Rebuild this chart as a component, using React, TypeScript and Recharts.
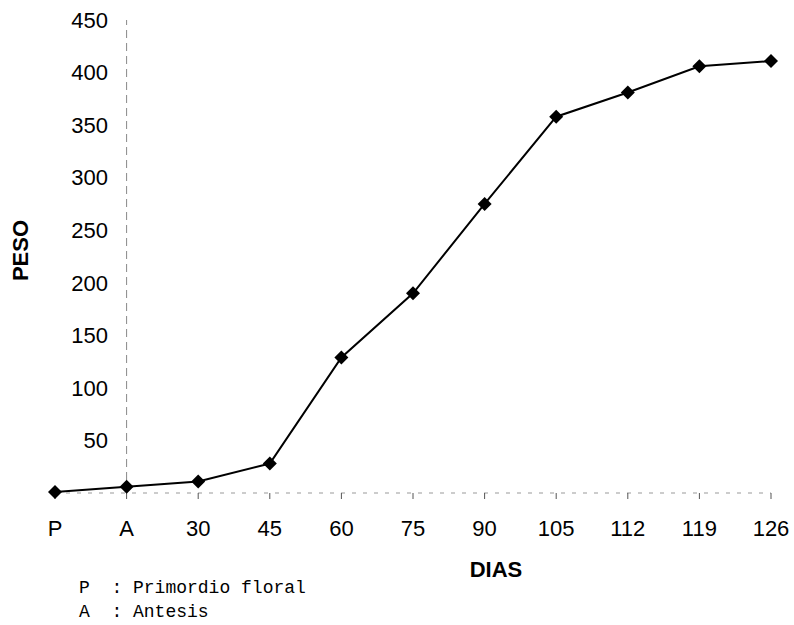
import { Label, Line, LineChart, ReferenceLine, XAxis, YAxis } from 'recharts';

const dias = ['P', 'A', '30', '45', '60', '75', '90', '105', '112', '119', '126'];
const peso = [1, 6, 11, 28, 129, 190, 275, 358, 381, 406, 411];
const yTicks = [50, 100, 150, 200, 250, 300, 350, 400, 450];
const notas = ['P  : Primordio floral', 'A  : Antesis'];

const data = dias.map((dia, i) => ({ dia, peso: peso[i] }));

const font = 'Arial, "Liberation Sans", sans-serif';

function Diamond(props: any) {
  const { cx, cy } = props;
  if (cx == null || cy == null) return null;
  const r = 7;
  return (
    <polygon
      points={`${cx},${cy - r} ${cx + r},${cy} ${cx},${cy + r} ${cx - r},${cy}`}
      fill='#000'
    />
  );
}

export default function App() {
  return (
    <div style={{ position: 'absolute', left: 0, top: 0, width: 794, height: 625, background: '#fff' }}>
      <LineChart
        width={794}
        height={625}
        data={data}
        margin={{ top: 20, right: 23, bottom: 42, left: 0 }}
      >
        <XAxis
          dataKey='dia'
          height={90}
          axisLine={{ stroke: '#999', strokeDasharray: '4 7' }}
          tickLine={{ stroke: '#555' }}
          tickSize={6}
          tickMargin={21}
          tick={{ fill: '#000', fontSize: 22, fontFamily: font }}
          interval={0}
        >
          <Label
            value='DIAS'
            position='insideBottom'
            offset={6}
            dx={83}
            style={{ fontSize: 22, fontWeight: 'bold', fontFamily: font, fill: '#000' }}
          />
        </XAxis>
        <YAxis
          width={55}
          domain={[0, 450]}
          ticks={yTicks}
          axisLine={false}
          tickLine={false}
          tickSize={0}
          tickMargin={0}
          tick={{ fill: '#000', fontSize: 22, fontFamily: font, dx: 53 }}
        >
          <Label
            value='PESO'
            angle={-90}
            position='insideLeft'
            offset={20}
            dy={-6}
            style={{ textAnchor: 'middle', fontSize: 22, fontWeight: 'bold', fontFamily: font, fill: '#000' }}
          />
        </YAxis>
        <ReferenceLine x='A' stroke='#888' strokeDasharray='8 5' strokeWidth={1} />
        <Line
          type='linear'
          dataKey='peso'
          stroke='#000'
          strokeWidth={2}
          dot={<Diamond />}
          activeDot={false}
          isAnimationActive={false}
        />
      </LineChart>
      {notas.map((nota, i) => (
        <div
          key={nota}
          style={{
            position: 'absolute',
            left: 79,
            top: 577 + i * 24,
            fontFamily: '"Liberation Mono", "DejaVu Sans Mono", monospace',
            fontSize: 18,
            whiteSpace: 'pre',
            lineHeight: '22px',
            color: '#000'
          }}
        >
          {nota}
        </div>
      ))}
    </div>
  );
}
